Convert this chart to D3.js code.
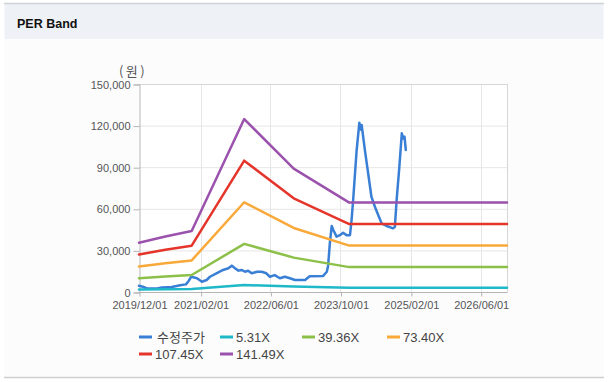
<!DOCTYPE html>
<html><head><meta charset="utf-8">
<script src="https://cdn.jsdelivr.net/npm/d3@7"></script>
<style>
html,body{margin:0;padding:0;background:#fff;}
svg{display:block;}
</style></head>
<body>
<svg id="chart" width="614" height="382"></svg>
<script>
// ---- data ----
const title = "PER Band";
const unitLabel = "(원)";
const seriesNames = ["수정주가", "5.31X", "39.36X", "73.40X", "107.45X", "141.49X"];
const seriesColors = ["#3a7fd6", "#1fb8c9", "#8cc049", "#f9a93a", "#e5352b", "#9b52ad"];
const xTickDates = ["2019-12-01", "2021-02-01", "2022-06-01", "2023-10-01", "2025-02-01", "2026-06-01"];
const yTickValues = [0, 30000, 60000, 90000, 120000, 150000];
const xDomainDates = ["2019-12-01", "2026-12-01"];

const priceDates = ["2019-12-01","2019-12-28","2020-01-25","2020-04-04","2020-05-08","2020-07-16","2020-09-12","2020-10-22","2020-11-10","2020-11-28",
  "2021-01-07","2021-02-10","2021-03-15","2021-04-07","2021-05-22","2021-07-07","2021-08-13","2021-09-06","2021-09-28","2021-10-22",
  "2021-11-13","2021-12-07","2021-12-28","2022-01-22","2022-02-28","2022-04-01","2022-05-04","2022-05-28","2022-07-01","2022-08-06",
  "2022-09-09","2022-10-15","2022-11-18","2022-12-23","2023-01-28","2023-03-01","2023-06-01","2023-06-28","2023-07-07","2023-07-19",
  "2023-08-01","2023-08-12","2023-09-04","2023-09-27","2023-10-19","2023-11-12","2023-12-06","2023-12-17","2023-12-28","2024-01-21",
  "2024-02-09","2024-02-21","2024-02-25","2024-03-19","2024-04-10","2024-05-03","2024-05-27","2024-06-19","2024-07-13","2024-08-16",
  "2024-10-01","2024-10-13","2024-10-25","2024-11-13","2024-11-30","2024-12-10","2024-12-19","2024-12-28"];
const priceValues = [4500,3800,2600,2600,3200,3600,4900,5500,8000,11000,
  9900,7400,8650,11000,13500,15900,17100,19000,17100,15400,
  15900,14600,15400,13500,14600,14600,13500,11000,12200,9900,
  11000,9900,8650,8650,8650,11300,11500,14600,19000,35000,
  47600,44700,39900,41000,42700,41000,41000,51900,66300,102000,
  122000,117000,120500,102000,85800,68700,61500,55500,49500,47600,
  45900,47000,66300,90300,114400,110800,112000,102400];

const bandDates = ["2019-12-01","2020-06-01","2020-12-01","2021-12-01","2022-11-10","2023-12-01","2026-12-01"];
const band531 = [1800, 2000, 2200, 5000, 3900, 3000, 3000];
const band3936 = [9900, 11100, 12250, 34700, 24800, 17950, 17950];
const band7340 = [18400, 20750, 22800, 64700, 46200, 33450, 33450];
const band10745 = [27000, 30400, 33400, 94700, 67600, 49000, 49000];
const band14149 = [35500, 40000, 44000, 124700, 89000, 64500, 64500];

// ---- drawing ----
const parse = d3.timeParse("%Y-%m-%d");
const svg = d3.select("#chart");

// panel
svg.append("rect").attr("x", 4.5).attr("y", 3.5).attr("width", 599).attr("height", 373.5)
  .attr("fill", "#fcfcfd").attr("stroke", "none");
svg.append("rect").attr("x", 4.5).attr("y", 4).attr("width", 599).attr("height", 35)
  .attr("fill", "#eef2f7");
svg.append("line").attr("x1", 4).attr("x2", 604).attr("y1", 3.5).attr("y2", 3.5).attr("stroke", "#cfd3d8").attr("stroke-width", 1.5);
svg.append("line").attr("x1", 4).attr("x2", 604).attr("y1", 377.5).attr("y2", 377.5).attr("stroke", "#d0d0d0").attr("stroke-width", 1.5);
svg.append("text").attr("x", 17).attr("y", 28).text(title)
  .attr("font-family", "'Liberation Sans', Arial, sans-serif").attr("font-weight", "bold")
  .attr("font-size", "12.5px").attr("fill", "#111");

const pL = 139, pR = 507, pT = 84, pB = 292;
const x = d3.scaleTime().domain(xDomainDates.map(parse)).range([pL, pR]);
const y = d3.scaleLinear().domain([0, 150000]).range([pB, pT]);

const font = "'Liberation Sans', Arial, sans-serif";
// plot bg
svg.append("rect").attr("x", pL).attr("y", pT).attr("width", pR - pL).attr("height", pB - pT).attr("fill", "#fff");

// gridlines
const g = svg.append("g");
g.selectAll("line.h").data(yTickValues).join("line")
  .attr("x1", pL).attr("x2", pR).attr("y1", d => y(d) + 0.5).attr("y2", d => y(d) + 0.5)
  .attr("stroke", "#e6e6e6").attr("stroke-width", 1);
g.selectAll("line.v").data(xTickDates.slice(1)).join("line")
  .attr("x1", d => Math.round(x(parse(d))) + 0.5).attr("x2", d => Math.round(x(parse(d))) + 0.5)
  .attr("y1", pT).attr("y2", pB)
  .attr("stroke", "#e6e6e6").attr("stroke-width", 1);
// border
svg.append("line").attr("x1", pL).attr("x2", pR).attr("y1", pT + 0.5).attr("y2", pT + 0.5).attr("stroke", "#d6d6d6");
svg.append("line").attr("x1", pR + 0.5).attr("x2", pR + 0.5).attr("y1", pT).attr("y2", pB).attr("stroke", "#d6d6d6");

// axes
const yAxis = d3.axisLeft(y).tickValues(yTickValues).tickFormat(d3.format(",")).tickSize(6).tickPadding(3);
const yg = svg.append("g").attr("transform", `translate(${pL + 0.5},0.5)`).call(yAxis);
const xAxis = d3.axisBottom(x).tickValues(xTickDates.map(parse)).tickFormat(d3.timeFormat("%Y/%m/%d")).tickSize(4).tickPadding(5);
const xg = svg.append("g").attr("transform", `translate(0.5,${pB + 0.5})`).call(xAxis);
[yg, xg].forEach(a => {
  a.select(".domain").attr("stroke", "#b5b5b5");
  a.selectAll(".tick line").attr("stroke", "#b5b5b5");
  a.selectAll("text").attr("font-family", font).attr("font-size", "11px").attr("fill", "#555");
});
xg.select(".domain").attr("d", `M${pL - 0.5},0H${pR}`);

svg.append("text").attr("x", 133).attr("y", 76).attr("text-anchor", "middle").text(unitLabel)
  .attr("font-family", "'Noto Sans CJK KR', sans-serif").attr("font-size", "13px")
  .attr("letter-spacing", "2.5px").attr("fill", "#555");

// series
const line = d3.line().x(d => x(d[0])).y(d => y(d[1]));
const price = priceDates.map((d, i) => [parse(d), priceValues[i]]);
const bands = [band531, band3936, band7340, band10745, band14149].map(arr => bandDates.map((d, i) => [parse(d), arr[i]]));
const all = [price, ...bands];
svg.append("g").selectAll("path").data(all).join("path")
  .attr("d", line).attr("fill", "none")
  .attr("stroke", (d, i) => seriesColors[i]).attr("stroke-width", 2.5)
  .attr("stroke-linejoin", "round").attr("stroke-linecap", "round");

// legend
const legX = [139, 220, 302, 387, 139, 220];
const legY = [337, 337, 337, 337, 354, 354];
const lg = svg.append("g").selectAll("g").data(seriesNames).join("g")
  .attr("transform", (d, i) => `translate(${legX[i]},${legY[i]})`);
lg.append("line").attr("x1", 0).attr("x2", 13).attr("y1", 0).attr("y2", 0)
  .attr("stroke", (d, i) => seriesColors[i]).attr("stroke-width", 3);
lg.append("text").attr("x", (d, i) => i === 0 ? 18 : 16).attr("y", 0).attr("dy", "0.36em")
  .text(d => d)
  .attr("font-family", (d, i) => i === 0 ? "'Noto Sans CJK KR', sans-serif" : font)
  .attr("font-size", "13px").attr("fill", "#444");
</script>
</body></html>
